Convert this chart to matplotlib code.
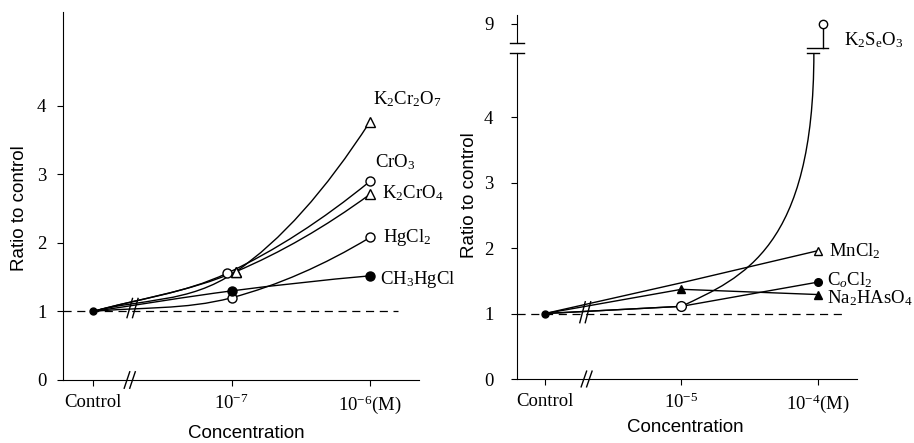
import numpy as np
import matplotlib.pyplot as plt
from matplotlib.path import Path
from matplotlib.patches import PathPatch

plt.rcParams["font.family"] = "Liberation Serif"
plt.rcParams["mathtext.fontset"] = "custom"
plt.rcParams["mathtext.rm"] = "Liberation Serif"
plt.rcParams["mathtext.it"] = "Liberation Serif:italic"

# ---- data (x: 0 = Control, 1 = low dose, 2 = high dose)
conc_x = [0, 1, 2]

left_ticks = ["Control", "10$^{-7}$", "10$^{-6}$(M)"]
k2cr2o7 = [1.0, 1.58, 3.77]
cro3 = [1.0, 1.56, 2.90]
k2cro4 = [1.0, 1.58, 2.71]
hgcl2 = [1.0, 1.20, 2.08]
ch3hgcl = [1.0, 1.30, 1.52]

right_ticks = ["Control", "10$^{-5}$", "10$^{-4}$(M)"]
k2seo3 = [1.0, 1.11, 9.0]
mncl2 = [1.0, 1.47, 1.96]
cocl2 = [1.0, 1.11, 1.48]
na2haso4 = [1.0, 1.37, 1.29]

FS = 13.5
LW = 1.0
DASH = (0, (6.5, 4.5))


def smooth_curve(ax, x, y, **kw):
    """cubic bezier through the points (hand drawn look)"""
    n = len(x)
    sec = [(y[i + 1] - y[i]) / (x[i + 1] - x[i]) for i in range(n - 1)]
    m = [0.0] * n
    for i in range(1, n - 1):
        m[i] = (y[i + 1] - y[i - 1]) / (x[i + 1] - x[i - 1])
    m[0] = sec[0]
    m[-1] = 2 * sec[-1] - m[-2]
    verts = [(x[0], y[0])]
    codes = [Path.MOVETO]
    for i in range(n - 1):
        h = x[i + 1] - x[i]
        verts += [(x[i] + h / 3, y[i] + m[i] * h / 3),
                  (x[i + 1] - h / 3, y[i + 1] - m[i + 1] * h / 3),
                  (x[i + 1], y[i + 1])]
        codes += [Path.CURVE4] * 3
    ax.add_patch(PathPatch(Path(verts, codes), fill=False, lw=LW, color="black", **kw))


def style_axes(ax, xlim, ylim, ticks, ypad):
    ax.set_xlim(*xlim)
    ax.set_ylim(*ylim)
    for s in ["top", "right"]:
        ax.spines[s].set_visible(False)
    ax.set_xticks(conc_x)
    ax.set_xticklabels(ticks, fontsize=FS)
    ax.get_xticklabels()[2].set_position((0, 0))
    ax.tick_params(axis="x", direction="out", length=4, pad=6)
    ax.tick_params(axis="y", direction="out", length=4, pad=ypad, labelsize=FS)


def axis_break(ax, xb, yc, half):
    for dx in (-0.025, 0.015):
        ax.plot([xb + dx - 0.02, xb + dx + 0.02], [yc - half, yc + half],
                color="black", lw=1.0, clip_on=False, zorder=5)


fig = plt.figure(figsize=(9.14, 4.43), dpi=100)

# ---------------------------------------------------------------- left panel
axL = fig.add_axes([63 / 914, 1 - 380 / 443, (419 - 63) / 914, (380 - 12) / 443])
style_axes(axL, (-0.217, 2.354), (0, 5.37), left_ticks, 8)
axL.set_yticks([0, 1, 2, 3, 4])
axL.plot([-0.217, 2.2], [1, 1], ls=DASH, color="black", lw=0.9)

left_series = [
    (k2cr2o7, "^", "white", 0.03, "K$_2$Cr$_2$O$_7$", (3, 22)),
    (cro3, "o", "white", -0.03, "CrO$_3$", (5, 19)),
    (k2cro4, "^", "white", 0.03, "K$_2$CrO$_4$", (12, 1)),
    (hgcl2, "o", "white", 0.0, "HgCl$_2$", (13, 0)),
    (ch3hgcl, "o", "black", 0.0, "CH$_3$HgCl", (10, -4)),
]
for y, mk, fc, dx, lab, off in left_series:
    xs = [conc_x[0], conc_x[1] + dx, conc_x[2]]
    smooth_curve(axL, xs, y, zorder=2)
    axL.plot(xs[1:], y[1:], ls="none", marker=mk, ms=6.5, mfc=fc, mec="black",
             mew=1.0, zorder=3, clip_on=False)
    axL.annotate(lab, (xs[2], y[2]), xytext=off, textcoords="offset pixels",
                 ha="left", va="center", fontsize=FS)
axL.plot(conc_x[0], 1.0, "o", ms=5, color="black", zorder=4)
axis_break(axL, 0.27, 0, 0.12)
axis_break(axL, 0.29, 1.05, 0.14)

# --------------------------------------------------------------- right panel
BRK_LO, BRK_HI = 4.98, 5.13


def upper(v):
    # values above the axis break are drawn in a compressed segment
    return BRK_HI + (v - 8) * 0.3


axR = fig.add_axes([517 / 914, 1 - 379 / 443, (857 - 517) / 914, (379 - 15) / 443])
style_axes(axR, (-0.205, 2.286), (0, 5.56), right_ticks, 13)
axR.set_yticks([0, 1, 2, 3, 4, upper(9)])
axR.set_yticklabels(["0", "1", "2", "3", "4", "9"])
axR.spines["left"].set_bounds(0, BRK_LO)
x0 = -0.205
axR.plot([x0, x0], [BRK_HI, 5.56], color="black", lw=0.8, clip_on=False)
for yy in (BRK_LO, BRK_HI):
    axR.plot([x0 - 0.05, x0 + 0.05], [yy, yy], color="black", lw=1.0, clip_on=False)
axR.plot([-0.205, 2.2], [1, 1], ls=DASH, color="black", lw=0.9)

# straight-line series
for y, mk, fc, lab, off, every in [
    (mncl2, "^", "white", "MnCl$_2$", (11, 0), [2]),
    (cocl2, "o", "black", "C$_o$Cl$_2$", (9, 2), [2]),
    (na2haso4, "^", "black", "Na$_2$HAsO$_4$", (9, -4), [1, 2]),
]:
    axR.plot(conc_x, y, color="black", lw=LW, marker=mk, ms=5.5, mfc=fc,
             mec="black", markevery=every, zorder=3)
    axR.annotate(lab, (conc_x[2], y[2]), xytext=off, textcoords="offset pixels",
                 ha="left", va="center", fontsize=FS)

# K2SeO3: rises steeply into the axis break
axR.plot(conc_x[:2], k2seo3[:2], color="black", lw=LW, zorder=2)
xe = 1.97
verts = [(conc_x[1], k2seo3[1]), (1.45, 1.55), (xe, 2.0), (xe, BRK_LO)]
axR.add_patch(PathPatch(Path(verts, [Path.MOVETO] + [Path.CURVE4] * 3),
                        fill=False, lw=LW, color="black"))
axR.plot([1.92, 2.01], [BRK_LO, BRK_LO], color="black", lw=1.0)
axR.plot([1.92, 2.07], [5.06, 5.06], color="black", lw=1.0)
xt = conc_x[2] + 0.04
axR.plot([xt, xt], [5.06, upper(k2seo3[2])], color="black", lw=LW)
axR.plot(conc_x[1], k2seo3[1], "o", ms=7, mfc="white", mec="black", zorder=4)
axR.plot(xt, upper(k2seo3[2]), "o", ms=6, mfc="white", mec="black", zorder=4,
         clip_on=False)
axR.annotate("K$_2$S$_\\mathrm{e}$O$_3$", (xt, upper(k2seo3[2])), xytext=(21, -17),
             textcoords="offset pixels", ha="left", va="center", fontsize=FS)
axR.plot(conc_x[0], 1.0, "o", ms=5, color="black", zorder=4)
axis_break(axR, 0.31, 0, 0.12)
axis_break(axR, 0.3, 1.02, 0.16)

# axis titles
for xp, yp in [(20, 208), (470, 195)]:
    fig.text(xp / 914, 1 - yp / 443, "Ratio to control", rotation=90,
             ha="center", va="center", fontsize=FS, family="Liberation Sans")
for xp, yp in [(246, 433), (685, 427)]:
    fig.text(xp / 914, 1 - yp / 443, "Concentration", ha="center",
             va="center", fontsize=FS, family="Liberation Sans")

fig.savefig("out.png", dpi=100)
